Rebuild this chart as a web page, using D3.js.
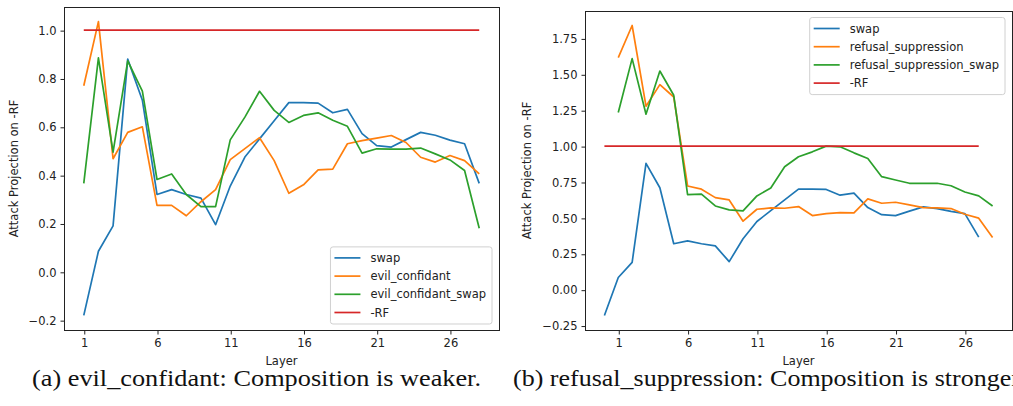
<!DOCTYPE html>
<html>
<head>
<meta charset="utf-8">
<script src="https://cdn.jsdelivr.net/npm/d3@7"></script>
<style>
  body { margin: 0; background: #fff; }
  svg { display: block; }
  .tick text, .label, .legend text { font-family: "DejaVu Sans", sans-serif; font-size: 11.5px; fill: #222; }
  .caption { font-family: "Liberation Serif", serif; font-size: 22.5px; fill: #111; }
</style>
</head>
<body>
<svg width="1013" height="406"></svg>
<script>
// layer indices
const layers = [1, 2, 3, 4, 5, 6, 7, 8, 9, 10, 11, 12, 13, 14, 15, 16, 17, 18, 19, 20, 21, 22, 23, 24, 25, 26, 27, 28];
const layersFrom0 = [0, 1, 2, 3, 4, 5, 6, 7, 8, 9, 10, 11, 12, 13, 14, 15, 16, 17, 18, 19, 20, 21, 22, 23, 24, 25, 26, 27];

// series values
const swap = [-0.18, 0.085, 0.19, 0.88, 0.71, 0.32, 0.34, 0.32, 0.305, 0.195, 0.355, 0.475, 0.55, 0.625,
    0.70, 0.70, 0.698, 0.658, 0.672, 0.572, 0.522, 0.516, 0.547, 0.577, 0.565, 0.545, 0.53, 0.366];
const evilConfidant = [0.77, 1.035, 0.468, 0.577, 0.60, 0.275, 0.275, 0.232, 0.29, 0.34, 0.464, 0.51, 0.555, 0.46,
    0.325, 0.36, 0.422, 0.425, 0.53, 0.543, 0.553, 0.564, 0.535, 0.474, 0.454, 0.481, 0.46, 0.405];
const evilConfidantSwap = [0.366, 0.885, 0.495, 0.873, 0.748, 0.382, 0.405, 0.32, 0.27, 0.27, 0.546, 0.64, 0.747, 0.668,
    0.618, 0.647, 0.658, 0.627, 0.602, 0.491, 0.509, 0.508, 0.508, 0.512, 0.488, 0.463, 0.419, 0.18];
const refusalSuppression = [1.616, 1.84, 1.278, 1.428, 1.342, 0.722, 0.70, 0.641, 0.625, 0.477, 0.56, 0.569, 0.567, 0.579,
    0.516, 0.53, 0.537, 0.535, 0.632, 0.602, 0.609, 0.59, 0.572, 0.569, 0.565, 0.525, 0.498, 0.363];
const refusalSuppressionSwap = [1.234, 1.609, 1.222, 1.523, 1.354, 0.662, 0.665, 0.583, 0.556, 0.549, 0.653, 0.708, 0.856, 0.926,
    0.96, 1.0, 0.995, 0.953, 0.914, 0.787, 0.764, 0.741, 0.741, 0.741, 0.724, 0.68, 0.653, 0.583];
const negRF = [1, 1, 1, 1, 1, 1, 1, 1, 1, 1, 1, 1, 1, 1, 1, 1, 1, 1, 1, 1, 1, 1, 1, 1, 1, 1, 1, 1];

// tick labels
const xTicks = [1, 6, 11, 16, 21, 26];
const yTicksA = [-0.2, 0.0, 0.2, 0.4, 0.6, 0.8, 1.0];
const yTicksB = [-0.25, 0.0, 0.25, 0.5, 0.75, 1.0, 1.25, 1.5, 1.75];

const blue = '#1f77b4', orange = '#ff7f0e', green = '#2ca02c', red = '#d62728';

const panels = [
    {
        box: { left: 64, right: 499, top: 7, bottom: 330 },
        yTicks: yTicksA, yFmt: '.1f', yLabelOff: 46,
        series: [
            { name: 'swap', x: layers, y: swap, color: blue },
            { name: 'evil_confidant', x: layers, y: evilConfidant, color: orange },
            { name: 'evil_confidant_swap', x: layers, y: evilConfidantSwap, color: green },
            { name: '-RF', x: layers, y: negRF, color: red }
        ],
        legend: 'lower right',
        caption: '(a) evil_confidant: Composition is weaker.', capX: 32, capLen: 449
    },
    {
        box: { left: 585, right: 1012, top: 11, bottom: 330 },
        yTicks: yTicksB, yFmt: '.2f', yLabelOff: 54,
        series: [
            { name: 'swap', x: layersFrom0, y: swap, color: blue },
            { name: 'refusal_suppression', x: layers, y: refusalSuppression, color: orange },
            { name: 'refusal_suppression_swap', x: layers, y: refusalSuppressionSwap, color: green },
            { name: '-RF', x: layersFrom0, y: negRF, color: red }
        ],
        legend: 'upper right',
        caption: '(b) refusal_suppression: Composition is stronger.', capX: 513, capLen: 512
    }
];

const svg = d3.select('svg');
const minus = (s) => s.replace('-', '\u2212');

// matplotlib-like 5% margins
const padded = (ext) => {
    const m = (ext[1] - ext[0]) * 0.05;
    return [ext[0] - m, ext[1] + m];
};

panels.forEach((p) => {
    const b = p.box;
    const xs = d3.extent(p.series.flatMap((s) => s.x));
    const ys = d3.extent(p.series.flatMap((s) => s.y));

    const x = d3.scaleLinear().domain(padded(xs)).range([b.left, b.right]);
    const y = d3.scaleLinear().domain(padded(ys)).range([b.bottom, b.top]);

    const g = svg.append('g');

    const line = d3.line()
        .x((d) => x(d[0]))
        .y((d) => y(d[1]));

    p.series.forEach((s) => {
        g.append('path')
            .datum(d3.zip(s.x, s.y))
            .attr('fill', 'none')
            .attr('stroke', s.color)
            .attr('stroke-width', 1.7)
            .attr('stroke-linejoin', 'round')
            .attr('d', line);
    });

    // frame
    g.append('rect')
        .attr('x', b.left + 0.5)
        .attr('y', b.top + 0.5)
        .attr('width', b.right - b.left)
        .attr('height', b.bottom - b.top)
        .attr('fill', 'none')
        .attr('stroke', '#222')
        .attr('stroke-width', 1);

    const xAxis = g.append('g')
        .attr('transform', `translate(0.5, ${b.bottom + 0.5})`)
        .call(d3.axisBottom(x).tickValues(xTicks).tickSize(4).tickPadding(4).tickFormat(d3.format('d')));
    const yAxis = g.append('g')
        .attr('transform', `translate(${b.left + 0.5}, 0.5)`)
        .call(d3.axisLeft(y).tickValues(p.yTicks).tickSize(4).tickPadding(4)
            .tickFormat((d) => minus(d3.format(p.yFmt)(d))));
    [xAxis, yAxis].forEach((a) => {
        a.select('.domain').remove();
        a.selectAll('.tick line').attr('stroke', '#222');
        a.attr('font-size', null).attr('font-family', null);
    });

    g.append('text')
        .attr('class', 'label')
        .attr('x', (b.left + b.right) / 2)
        .attr('y', 365)
        .attr('text-anchor', 'middle')
        .text('Layer');

    g.append('text')
        .attr('class', 'label')
        .attr('transform', `translate(${b.left - p.yLabelOff}, ${(b.top + b.bottom) / 2}) rotate(-90)`)
        .attr('text-anchor', 'middle')
        .text('Attack Projection on -RF');

    // legend
    const lg = g.append('g').attr('class', 'legend');
    const box = lg.append('rect');
    const rowH = 18.2;
    p.series.forEach((s, i) => {
        const cy = 11 + i * rowH;
        lg.append('line')
            .attr('x1', 4).attr('x2', 30)
            .attr('y1', cy).attr('y2', cy)
            .attr('stroke', s.color)
            .attr('stroke-width', 1.7);
        lg.append('text')
            .attr('x', 40)
            .attr('y', cy)
            .attr('dy', '0.36em')
            .text(s.name);
    });
    const tw = d3.max(lg.selectAll('text').nodes(), (n) => n.getComputedTextLength());
    const w = 40 + tw + 6;
    const h = 11 + 3 * rowH + 11.5;
    box.attr('width', w).attr('height', h)
        .attr('rx', 2.5)
        .attr('fill', '#fff')
        .attr('fill-opacity', 0.8)
        .attr('stroke', '#d0d0d0');
    const lx = b.right - 7 - w;
    const ly = p.legend === 'lower right' ? b.bottom - 6 - h : b.top + 6.5;
    lg.attr('transform', `translate(${lx}, ${ly})`);

    svg.append('text')
        .attr('class', 'caption')
        .attr('x', p.capX)
        .attr('y', 386)
        .attr('textLength', p.capLen)
        .attr('lengthAdjust', 'spacingAndGlyphs')
        .text(p.caption);
});
</script>
</body>
</html>
